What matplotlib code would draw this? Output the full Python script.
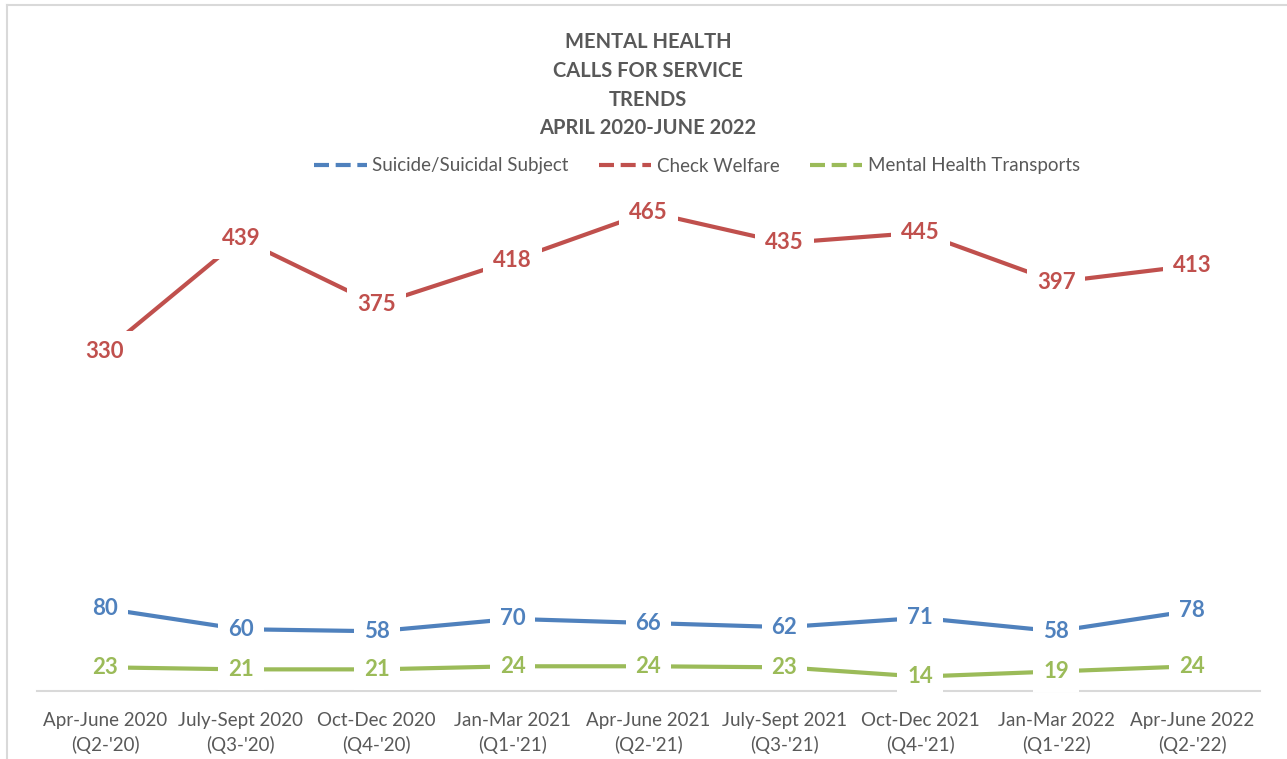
import matplotlib
matplotlib.use("Agg")
import matplotlib.pyplot as plt
from matplotlib.lines import Line2D

categories = ["Apr-June 2020\n(Q2-'20)", "July-Sept 2020\n(Q3-'20)", "Oct-Dec 2020\n(Q4-'20)",
              "Jan-Mar 2021\n(Q1-'21)", "Apr-June 2021\n(Q2-'21)", "July-Sept 2021\n(Q3-'21)",
              "Oct-Dec 2021\n(Q4-'21)", "Jan-Mar 2022\n(Q1-'22)", "Apr-June 2022\n(Q2-'22)"]
suicide = [80, 60, 58, 70, 66, 62, 71, 58, 78]
welfare = [330, 439, 375, 418, 465, 435, 445, 397, 413]
transports = [23, 21, 21, 24, 24, 23, 14, 19, 24]
series_names = ["Suicide/Suicidal Subject", "Check Welfare", "Mental Health Transports"]
colors = ["#4F81BD", "#C0504D", "#9BBB59"]
title = "MENTAL HEALTH\nCALLS FOR SERVICE\nTRENDS\nAPRIL 2020-JUNE 2022"

plt.rcParams['font.family'] = ['Lato', 'DejaVu Sans']
gray = "#595959"

W, H = 1287, 759
fig = plt.figure(figsize=(W / 100, H / 100), dpi=100)
ax = fig.add_axes([37 / W, 1 - 691 / H, (1260 - 37) / W, (691 - 176) / H])

x = list(range(len(categories)))
for vals, c in zip([suicide, welfare, transports], colors):
    ax.plot(x, vals, color=c, lw=3, solid_capstyle='butt', zorder=2)
    for xi, v in zip(x, vals):
        ax.text(xi, v, str(v), ha='center', va='center', color=c, fontsize=16,
                fontweight='bold', zorder=3,
                bbox=dict(boxstyle='square,pad=0.45', fc='white', ec='none'))

ax.set_xlim(-0.5, len(categories) - 0.5)
ax.set_ylim(0, 500)
ax.set_yticks([])
ax.set_xticks(x)
ax.set_xticklabels(categories, fontsize=13.5, color=gray, linespacing=1.45)
ax.tick_params(axis='x', length=0, pad=15)
for s in ['top', 'right', 'left']:
    ax.spines[s].set_visible(False)
ax.spines['bottom'].set_color('#D9D9D9')
ax.spines['bottom'].set_linewidth(1.5)
ax.spines['bottom'].set_zorder(1)

fig.text(648 / W, 1 - 32 / H, title, ha='center', va='top', fontsize=14.5,
         fontweight='bold', color=gray, linespacing=1.55)

handles = [Line2D([0], [0], color=c, lw=3, ls=(0, (3.6, 1.6))) for c in colors]
fig.legend(handles, series_names, loc='center', bbox_to_anchor=(697 / W, 1 - 166 / H),
           ncol=3, frameon=False, fontsize=13.5, labelcolor=gray, handlelength=2.8,
           columnspacing=1.6, handletextpad=0.3)

# chart border (partially visible)
fig.add_artist(Line2D([6.5 / W, 1], [1 - 4.5 / H, 1 - 4.5 / H], transform=fig.transFigure,
                      color='#D9D9D9', lw=1.5))
fig.add_artist(Line2D([6.5 / W, 6.5 / W], [0, 1 - 4.5 / H], transform=fig.transFigure,
                      color='#D9D9D9', lw=1.5))

fig.savefig("out.png", dpi=100)
